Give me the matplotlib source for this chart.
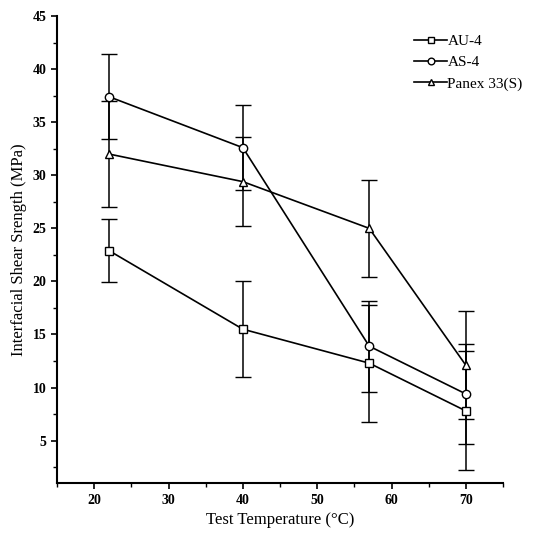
import matplotlib.pyplot as plt
from matplotlib.ticker import MultipleLocator

plt.rcParams['font.family'] = ['Liberation Serif', 'DejaVu Serif']

temps = [22, 40, 57, 70]

au4 = [22.9, 15.5, 12.3, 7.8]
au4_err = [3.0, 4.5, 5.5, 5.6]

as4 = [37.4, 32.6, 13.9, 9.4]
as4_err = [4.0, 4.0, 4.3, 4.7]

panex = [32.0, 29.4, 25.0, 12.1]
panex_err = [5.0, 4.2, 4.6, 5.1]

series = [
    ('AU-4', au4, au4_err, 's'),
    ('AS-4', as4, as4_err, 'o'),
    ('Panex 33(S)', panex, panex_err, '^'),
]

fig = plt.figure(figsize=(5.38, 5.35), dpi=100)
ax = fig.add_axes([0.106, 0.097, 0.829, 0.873])

for name, y, err, mk in series:
    ax.errorbar(temps, y, yerr=err, color='black', lw=1.2, elinewidth=1.1,
                capsize=6, capthick=1.1, marker=mk, markersize=6,
                markerfacecolor='white', markeredgecolor='black',
                markeredgewidth=1.0, label=name)

ax.set_xlim(15, 75)
ax.set_ylim(1, 45)
ax.xaxis.set_major_locator(MultipleLocator(10))
ax.xaxis.set_minor_locator(MultipleLocator(5))
ax.yaxis.set_major_locator(MultipleLocator(5))
ax.yaxis.set_minor_locator(MultipleLocator(2.5))
ax.set_xticks([20, 30, 40, 50, 60, 70])

for s in ['top', 'right']:
    ax.spines[s].set_visible(False)
for s in ['left', 'bottom']:
    ax.spines[s].set_linewidth(1.5)

ax.tick_params(which='major', direction='out', length=4, width=1.2, labelsize=10)
ax.tick_params(which='minor', direction='out', length=3, width=1.0)
for lbl in ax.get_xticklabels() + ax.get_yticklabels():
    lbl.set_fontweight('bold')

ax.set_xlabel('Test Temperature (\u00b0C)', fontsize=12)
ax.set_ylabel('Interfacial Shear Srength (MPa)', fontsize=12)

h, l = ax.get_legend_handles_labels()
h = [x[0] for x in h]
ax.legend(h, l, loc='upper right', bbox_to_anchor=(1.075, 0.99), frameon=False,
          fontsize=11, handlelength=2.2, handletextpad=0.0, labelspacing=0.5,
          markerscale=0.8)

fig.savefig('out.png', dpi=100)
